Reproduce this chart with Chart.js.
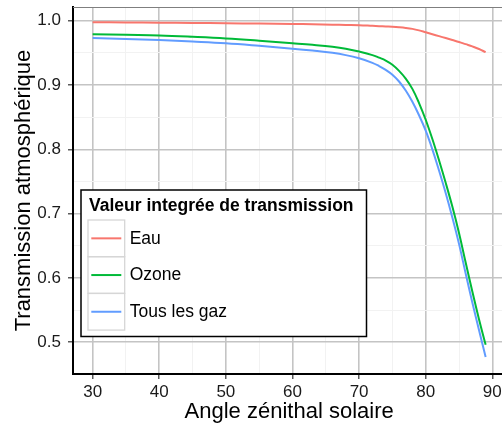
<!DOCTYPE html>
<html>
<head>
<meta charset="utf-8">
<script src="https://cdn.jsdelivr.net/npm/chart.js@4/dist/chart.umd.min.js"></script>
<style>
  html, body { margin: 0; padding: 0; background: #fff; overflow: hidden; }
  #wrap { width: 508px; height: 428px; }
</style>
</head>
<body>
<div id="wrap"><canvas id="c" width="508" height="428"></canvas></div>
<script>
// Solar zenith angle (degrees)
const angles = [30, 35, 40, 45, 50, 55, 60, 63, 66, 68, 70, 72, 73, 74, 75, 76, 77, 78, 79, 80, 81, 82, 83, 84, 85, 86, 87, 88, 89];

// Integrated transmission per absorber
const eau = [0.9975, 0.9973, 0.997, 0.9965, 0.996, 0.9955, 0.995, 0.9945, 0.9938, 0.9934, 0.993, 0.992, 0.9915, 0.991, 0.9905, 0.9898, 0.9888, 0.9873, 0.985, 0.982, 0.979, 0.976, 0.973, 0.970, 0.967, 0.9635, 0.960, 0.956, 0.951];
const ozone = [0.979, 0.978, 0.977, 0.975, 0.9725, 0.969, 0.965, 0.9625, 0.9595, 0.9565, 0.952, 0.9465, 0.9425, 0.938, 0.9315, 0.922, 0.910, 0.894, 0.872, 0.846, 0.816, 0.783, 0.748, 0.711, 0.670, 0.624, 0.579, 0.536, 0.496];
const tousGaz = [0.973, 0.9715, 0.970, 0.9677, 0.965, 0.961, 0.9565, 0.9535, 0.950, 0.9465, 0.9415, 0.9345, 0.9295, 0.9235, 0.916, 0.9055, 0.8915, 0.874, 0.853, 0.829, 0.800, 0.767, 0.732, 0.694, 0.653, 0.607, 0.562, 0.519, 0.477];

const seriesNames = ['Eau', 'Ozone', 'Tous les gaz'];
const seriesColors = ['#F8766D', '#00BA38', '#619CFF'];

// Axis ticks
const xMajor = [30, 40, 50, 60, 70, 80, 90];
const xMinor = [35, 45, 55, 65, 75, 85];
const yMajor = [0.5, 0.6, 0.7, 0.8, 0.9, 1.0];
const yMinor = [0.55, 0.65, 0.75, 0.85, 0.95];
const yLabels = ['0.5', '0.6', '0.7', '0.8', '0.9', '1.0'];

const legendTitle = 'Valeur integrée de transmission';
const xTitle = 'Angle zénithal solaire';
const yTitle = 'Transmission atmosphérique';

const FONT = '"Liberation Sans", Arial, Helvetica, sans-serif';
const isIn = (arr, v) => arr.some(a => Math.abs(a - v) < 1e-9);

const toPoints = vals => angles.map((a, i) => ({ x: a, y: vals[i] }));
const seriesValues = [eau, ozone, tousGaz];

const datasets = seriesValues.map((vals, i) => ({
  label: seriesNames[i],
  data: toPoints(vals),
  borderColor: seriesColors[i],
  backgroundColor: seriesColors[i],
  borderWidth: 2,
  pointRadius: 0,
  fill: false,
  tension: 0.4
}));

const majorGrid = '#c4c4c4';
const minorGrid = '#f2f2f2';

// Gray frame line along the top of the panel
const panelTop = {
  id: 'panelTop',
  beforeDatasetsDraw(chart) {
    const { ctx, chartArea: ca } = chart;
    ctx.save();
    ctx.strokeStyle = '#7f7f7f';
    ctx.lineWidth = 1.2;
    ctx.beginPath();
    ctx.moveTo(ca.left, ca.top + 0.5);
    ctx.lineTo(ca.right, ca.top + 0.5);
    ctx.stroke();
    ctx.restore();
  }
};

// Boxed legend inside the panel, bottom-left
const legendBox = {
  id: 'legendBox',
  afterDraw(chart) {
    const { ctx, chartArea: ca } = chart;
    const left = ca.left + 8, top = ca.bottom - 184, w = 285.5, h = 146.5;
    const keySize = 36.7;
    ctx.save();
    ctx.fillStyle = '#fff';
    ctx.fillRect(left, top, w, h);
    ctx.strokeStyle = '#000';
    ctx.lineWidth = 1.5;
    ctx.strokeRect(left, top, w, h);

    ctx.fillStyle = '#000';
    ctx.font = 'bold 17.5px ' + FONT;
    ctx.textAlign = 'left';
    ctx.textBaseline = 'alphabetic';
    ctx.fillText(legendTitle, left + 8, top + 21);

    chart.data.datasets.forEach((ds, i) => {
      const ky = top + 30 + i * keySize;
      ctx.strokeStyle = '#d6d6d6';
      ctx.lineWidth = 1.3;
      ctx.strokeRect(left + 7, ky, keySize, keySize);
      ctx.strokeStyle = ds.borderColor;
      ctx.lineWidth = 2;
      ctx.beginPath();
      ctx.moveTo(left + 10.3, ky + keySize / 2);
      ctx.lineTo(left + 40.3, ky + keySize / 2);
      ctx.stroke();
      ctx.fillStyle = '#000';
      ctx.font = '17.5px ' + FONT;
      ctx.textBaseline = 'middle';
      ctx.fillText(ds.label, left + 48.7, ky + keySize / 2 + 0.5);
    });
    ctx.restore();
  }
};

new Chart(document.getElementById('c'), {
  type: 'line',
  data: { datasets },
  options: {
    responsive: false,
    animation: false,
    devicePixelRatio: 1,
    layout: { padding: { left: 0, top: 7, right: 2.7, bottom: 0 } },
    plugins: {
      legend: { display: false },
      tooltip: { enabled: false }
    },
    scales: {
      x: {
        type: 'linear',
        min: 27.05,
        max: 91.95,
        afterBuildTicks(s) {
          s.ticks = [...xMajor, ...xMinor].sort((a, b) => a - b).map(v => ({ value: v }));
        },
        afterFit(s) {
          s.height = 54;
          s.paddingLeft = 0;
          s.paddingRight = 0;
        },
        ticks: {
          autoSkip: false,
          maxRotation: 0,
          padding: 3.5,
          color: '#1a1a1a',
          font: { family: FONT, size: 17 },
          callback: v => (isIn(xMajor, v) ? String(v) : '')
        },
        grid: {
          color: c => (c.tick && isIn(xMajor, c.tick.value) ? majorGrid : minorGrid),
          lineWidth: c => (c.tick && isIn(xMajor, c.tick.value) ? 1.6 : 1),
          tickLength: 5,
          tickColor: c => (c.tick && isIn(xMajor, c.tick.value) ? '#333333' : 'rgba(0,0,0,0)'),
          tickWidth: 1.2
        },
        border: { display: true, color: '#000', width: 2 },
        title: {
          display: true,
          text: xTitle,
          color: '#000',
          font: { family: FONT, size: 22 },
          padding: { top: 0, bottom: 3 }
        }
      },
      y: {
        type: 'linear',
        min: 0.4507,
        max: 1.0213,
        afterBuildTicks(s) {
          s.ticks = [...yMajor, ...yMinor].sort((a, b) => a - b).map(v => ({ value: v }));
        },
        afterFit(s) {
          s.width = 73;
          s.paddingTop = 0;
          s.paddingBottom = 0;
        },
        ticks: {
          autoSkip: false,
          padding: 7,
          color: '#1a1a1a',
          font: { family: FONT, size: 17 },
          callback: v => {
            const k = yMajor.findIndex(a => Math.abs(a - v) < 1e-9);
            return k >= 0 ? yLabels[k] : '';
          }
        },
        grid: {
          color: c => (c.tick && isIn(yMajor, c.tick.value) ? majorGrid : minorGrid),
          lineWidth: c => (c.tick && isIn(yMajor, c.tick.value) ? 1.6 : 1),
          tickLength: 5,
          tickColor: c => (c.tick && isIn(yMajor, c.tick.value) ? '#333333' : 'rgba(0,0,0,0)'),
          tickWidth: 1.2
        },
        border: { display: true, color: '#000', width: 2 },
        title: {
          display: true,
          text: yTitle,
          color: '#000',
          font: { family: FONT, size: 22 },
          padding: { top: 10.8, bottom: 0 }
        }
      }
    }
  },
  plugins: [panelTop, legendBox]
});
</script>
</body>
</html>
